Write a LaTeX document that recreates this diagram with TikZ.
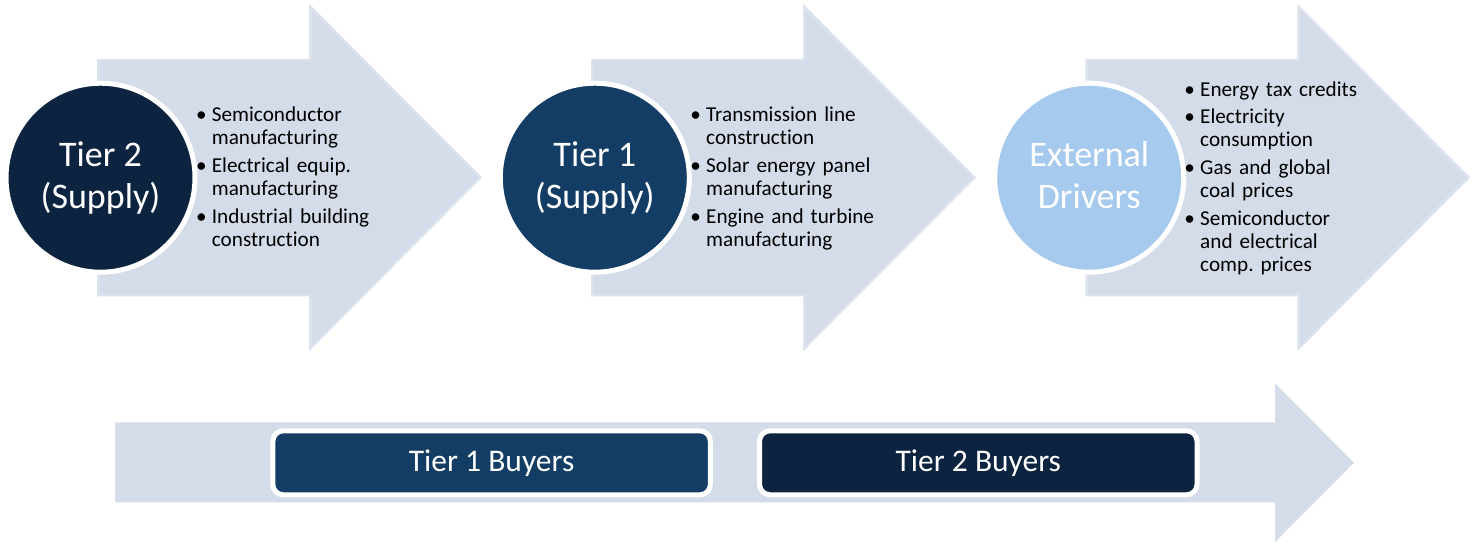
\documentclass[tikz,border=0pt]{standalone}
\usepackage{fontspec}
\setmainfont{Carlito}[Ligatures=NoCommon]
\usetikzlibrary{calc}

\definecolor{arrowfill}{HTML}{D4DBE9}
\definecolor{arrowedge}{HTML}{DCE2EE}
\definecolor{navy}{HTML}{0C2440}
\definecolor{midblue}{HTML}{143D66}
\definecolor{skyblue}{HTML}{A6CAEE}

\newlength\bulind
\setlength\bulind{14pt}
% one bullet item with hanging indent; \brk breaks a line inside the item
\newcommand\brk{\hfil\break}
\newcommand\bitem[1]{\hangindent=\bulind\hangafter=1\noindent
  \makebox[\bulind][r]{\textbullet\hspace{5.3pt}}#1\par}

\tikzset{
  bigarrow/.style={fill=arrowfill, draw=arrowedge, line width=2.5pt, line join=miter},
  tiercircle/.style={circle, draw=white, line width=5pt, minimum size=189pt,
    inner sep=0pt, outer sep=0pt},
  circtext/.style={text=white, inner sep=0pt, anchor=base,
    font=\fontsize{36}{41.6}\selectfont},
  bullets/.style={anchor=base west, inner sep=0pt, text width=260pt, align=left,
    font=\fontsize{21.2}{23.3}\selectfont\frenchspacing},
  buyerbox/.style={rounded corners=10.5pt, draw=white, line width=5pt,
    minimum width=437.5pt, minimum height=64pt, inner sep=0pt, text=white,
    text height=20pt, text depth=2.2pt, font=\fontsize{31.5}{36}\selectfont},
}

\begin{document}
\begin{tikzpicture}[x=1pt, y=-1pt]
  \useasboundingbox (0,0) rectangle (1477,542);

  % three block arrows of the upper row
  \foreach \xl in {98.3, 592.3, 1086.5} {
    \draw[bigarrow] (\xl,60) -- (\xl+212,60) -- (\xl+212,6.7)
      -- (\xl+382,177.5) -- (\xl+212,348.3) -- (\xl+212,295)
      -- (\xl,295) -- cycle;
  }

  % long arrow of the lower row
  \fill[arrowfill] (115,422.3) -- (1275,422.3) -- (1275,383.3)
    -- (1354,462.7) -- (1275,542) -- (1275,502.3) -- (115,502.3) -- cycle;

  % tier circles
  \node[tiercircle, fill=navy]    (tier2)    at (100.5,177.7) {};
  \node[tiercircle, fill=midblue] (tier1)    at (594.8,177.7) {};
  \node[tiercircle, fill=skyblue] (external) at (1089.2,177.7) {};

  \node[circtext] (tier2a) at ($(tier2.center)+(0,-11)$) {Tier 2};
  \node[circtext] (tier2b) at ($(tier2.center)+(0,30.6)$) {(Supply)};
  \node[circtext] (tier1a) at ($(tier1.center)+(0,-11)$) {Tier 1};
  \node[circtext] (tier1b) at ($(tier1.center)+(0,30.6)$) {(Supply)};
  \node[circtext] (exta)   at ($(external.center)+(0,-11)$) {External};
  \node[circtext] (extb)   at ($(external.center)+(0,30.6)$) {Drivers};

  % bullet lists
  \node[bullets] (list2) at (197.7,121.4) {\setlength\parskip{4.2pt}%
    \bitem{Semiconductor\brk manufacturing}%
    \bitem{Electrical equip.\brk manufacturing}%
    \bitem{Industrial building\brk construction}};
  \node[bullets] (list1) at (692,121.4) {\setlength\parskip{4.2pt}%
    \bitem{Transmission line\brk construction}%
    \bitem{Solar energy panel\brk manufacturing}%
    \bitem{Engine and turbine\brk manufacturing}};
  \node[bullets] (list3) at (1186,96) {\setlength\parskip{4.2pt}%
    \bitem{Energy tax credits}%
    \bitem{Electricity\brk consumption}%
    \bitem{Gas and global\brk coal prices}%
    \bitem{Semiconductor\brk and electrical\brk comp. prices}};

  % buyer boxes on the lower arrow
  \node[buyerbox, fill=midblue] (buy1) at (491.6,462.8) {Tier 1 Buyers};
  \node[buyerbox, fill=navy]    (buy2) at (978.3,462.8) {Tier 2 Buyers};
\end{tikzpicture}
\end{document}
